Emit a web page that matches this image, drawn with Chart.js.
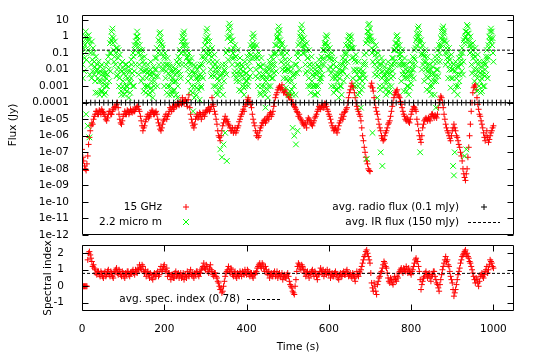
<!DOCTYPE html>
<html>
<head>
<meta charset="utf-8">
<title>Radio / IR flux and spectral index</title>
<script src="https://cdn.jsdelivr.net/npm/chart.js@4.4.1/dist/chart.umd.min.js"></script>
<style>
    html, body { margin: 0; padding: 0; background: #ffffff; }
    #page { position: relative; width: 534px; height: 354px; overflow: hidden; }
    #flux-chart { position: absolute; left: 0; top: 0; }
    #index-chart { position: absolute; left: 0; top: 240px; }
</style>
</head>
<body>
<div id="page">
    <canvas id="flux-chart" width="534" height="240"></canvas>
    <canvas id="index-chart" width="534" height="114"></canvas>
</div>
<script>
// Time axis (s)
const timeMax = 1050;
const radioStep = 4;   // 15 GHz flux and spectral index: 4 s per value in each list
const irStep = 2;      // 2.2 micron flux: 2 s per value in each list
const avgSamples = 100;

// 15 GHz flux (Jy), t = 0, 4, 8, ... 1000
const flux15GHz = [
    1.5e-7, 3e-8, 1e-8, 2e-8, 3e-7,
    2e-6, 6e-6, 1e-5, 2e-5, 3e-5,
    2e-5, 3e-5, 4e-5, 2.5e-5, 1.5e-5,
    8e-6, 2e-5, 3e-5, 2e-5, 4e-5,
    6e-5, 8e-5, 5e-5, 1e-5, 5e-6,
    1.5e-5, 3e-5, 2e-5, 3e-5, 2.5e-5,
    3e-5, 4e-5, 3e-5, 5e-5, 6e-5,
    3e-5, 8e-6, 2e-6, 4e-6, 1e-5,
    2e-5, 1.5e-5, 2.5e-5, 3e-5, 2e-5,
    3e-5, 1e-5, 4e-6, 2e-6, 5e-6,
    1e-5, 2e-5, 1.5e-5, 3e-5, 4e-5,
    6e-5, 5e-5, 8e-5, 1e-4, 7e-5,
    1.2e-4, 2e-4, 9e-5, 1.5e-4, 6e-5,
    3e-4, 2e-5, 6e-6, 3e-6, 1e-5,
    2e-5, 1.5e-5, 2e-5, 1.5e-5, 2e-5,
    2.5e-5, 3e-5, 5e-5, 4e-5, 2e-4,
    6e-5, 2e-5, 5e-6, 1e-6, 5e-7,
    2e-6, 6e-6, 1.5e-5, 1e-5, 5e-6,
    3e-6, 2e-6, 1.5e-6, 3e-6, 2e-6,
    4e-6, 1e-5, 2e-5, 4e-5, 6e-5,
    1e-4, 2e-4, 1.2e-4, 5e-5, 1e-5,
    4e-6, 1e-6, 8e-7, 2e-6, 4e-6,
    6e-6, 1e-5, 8e-6, 1.5e-5, 2e-5,
    1.5e-5, 3e-5, 1e-4, 3e-4, 6e-4,
    1e-3, 8e-4, 6e-4, 5e-4, 4e-4,
    3e-4, 2e-4, 1.5e-4, 1e-4, 6e-5,
    4e-5, 2.5e-5, 2e-5, 1e-5, 6e-6,
    4e-6, 5e-6, 8e-6, 1e-5, 6e-6,
    4e-6, 8e-6, 1.5e-5, 3e-5, 6e-5,
    4e-5, 7e-5, 5e-5, 8e-5, 4e-5,
    2e-5, 1e-5, 4e-6, 2e-6, 3e-6,
    1.5e-6, 4e-6, 8e-6, 2e-5, 1.5e-5,
    3e-5, 5e-5, 2e-4, 6e-4, 1.5e-3,
    8e-4, 2e-4, 6e-5, 3e-5, 1.5e-5,
    3e-6, 5e-7, 1e-7, 3e-8, 1e-8,
    7e-9, 1.5e-3, 5e-4, 1e-4, 3e-5,
    1e-5, 3e-6, 1e-6, 5e-7, 1e-6,
    2e-6, 5e-6, 8e-6, 3e-5, 1e-4,
    3e-4, 5e-4, 3e-4, 2e-4, 8e-5,
    3e-5, 1.5e-5, 8e-6, 1e-5, 6e-6,
    2e-5, 4e-5, 5e-5, 3e-5, 5e-6,
    1e-6, 4e-7, 3e-6, 8e-6, 1.2e-5,
    8e-6, 1e-5, 1.5e-5, 2e-5, 1.2e-5,
    1.5e-5, 2e-5, 1e-4, 2.5e-4, 1e-4,
    2e-5, 5e-6, 2e-6, 1e-6, 5e-7,
    2e-6, 5e-6, 2e-6, 8e-7, 3e-7,
    1e-7, 3e-8, 5e-9, 2e-9, 1e-8,
    2e-7, 5e-6, 1e-4, 8e-4, 1.2e-3,
    2e-4, 4e-5, 1.5e-5, 5e-6, 1.5e-6,
    5e-7, 2e-6, 4e-7, 1e-6, 2e-6,
    4e-6
];

// 15 GHz flux (Jy), in-between readings, t = 2, 6, 10, ... 998
const flux15GHzMid = [
    5e-8, 1.5e-8, 8e-9, 6e-8, 8e-7,
    4e-6, 5e-6, 1.5e-5, 3e-5, 2e-5,
    3.5e-5, 2e-5, 3e-5, 2e-5, 1e-5,
    1.2e-5, 3e-5, 2e-5, 3e-5, 5e-5,
    5e-5, 1e-4, 2e-5, 6e-6, 8e-6,
    2e-5, 2e-5, 3.5e-5, 2e-5, 4e-5,
    2.5e-5, 3e-5, 4e-5, 6e-5, 4e-5,
    1.5e-5, 4e-6, 3e-6, 7e-6, 1.5e-5,
    1.2e-5, 2e-5, 3.5e-5, 2e-5, 2.5e-5,
    2e-5, 6e-6, 2.5e-6, 3e-6, 8e-6,
    1.5e-5, 1e-5, 2e-5, 5e-5, 3e-5,
    4e-5, 7e-5, 6e-5, 8e-5, 1e-4,
    8e-5, 1.2e-4, 1.3e-4, 1e-4, 1.5e-4,
    5e-5, 1e-5, 4e-6, 5e-6, 1.5e-5,
    1.2e-5, 2.5e-5, 1e-5, 2.5e-5, 1.5e-5,
    3.5e-5, 4e-5, 3e-5, 6e-5, 8e-5,
    3e-5, 1e-5, 2e-6, 8e-7, 1e-6,
    4e-6, 1e-5, 8e-6, 7e-6, 4e-6,
    2e-6, 3e-6, 2e-6, 1.5e-6, 3e-6,
    7e-6, 1.5e-5, 3e-5, 3e-5, 8e-5,
    1.5e-4, 1e-4, 8e-5, 2e-5, 6e-6,
    2e-6, 1.5e-6, 1e-6, 3e-6, 6e-6,
    8e-6, 6e-6, 1.2e-5, 1e-5, 2.5e-5,
    2e-5, 6e-5, 2e-4, 4e-4, 8e-4,
    7e-4, 1.2e-3, 4e-4, 6e-4, 3e-4,
    2.5e-4, 3e-4, 1e-4, 8e-5, 5e-5,
    3e-5, 1.5e-5, 1.2e-5, 8e-6, 5e-6,
    6e-6, 3e-6, 1.2e-5, 8e-6, 5e-6,
    6e-6, 1.2e-5, 2e-5, 4e-5, 5e-5,
    6e-5, 5e-5, 9e-5, 6e-5, 3e-5,
    1.5e-5, 6e-6, 3e-6, 2.5e-6, 2e-6,
    2.5e-6, 6e-6, 1.2e-5, 1e-5, 2.5e-5,
    4e-5, 1e-4, 4e-4, 1e-3, 1e-3,
    4e-4, 1e-4, 4e-5, 2e-5, 8e-6,
    1e-6, 2e-7, 5e-8, 2e-8, 8e-9,
    1e-3, 8e-4, 2e-4, 5e-5, 2e-5,
    5e-6, 2e-6, 7e-7, 6e-7, 1.5e-6,
    3e-6, 6e-6, 1.5e-5, 6e-5, 2e-4,
    4e-4, 6e-4, 2.5e-4, 1.2e-4, 5e-5,
    2e-5, 1e-5, 1.2e-5, 7e-6, 1e-5,
    3e-5, 6e-5, 4e-5, 1e-5, 2e-6,
    6e-7, 1e-6, 5e-6, 1e-5, 1e-5,
    1.2e-5, 8e-6, 2e-5, 1.5e-5, 1.8e-5,
    1.2e-5, 5e-5, 1.5e-4, 2e-4, 5e-5,
    1e-5, 3e-6, 1.5e-6, 7e-7, 1e-6,
    3e-6, 3e-6, 1e-6, 5e-7, 2e-7,
    6e-8, 1e-8, 3e-9, 5e-9, 5e-8,
    1e-6, 3e-5, 4e-4, 1e-3, 6e-4,
    8e-5, 2e-5, 8e-6, 3e-6, 8e-7,
    1e-6, 8e-7, 6e-7, 1.5e-6, 3e-6
];

// 2.2 micron flux (Jy), t = 0, 2, 4, ... 1000
const flux2200nm = [
    1e-1, 3e-3, 2e-1, 5e-2, 1e0, 2e-5, 6e-1, 4e-6, 1.2e0, 8e-7,
    3e-1, 2e-2, 5e-1, 8e-3, 1e-1, 3e-2, 2e-3, 6e-2, 1e-2, 4e-4,
    3e-2, 2e-3, 8e-3, 5e-4, 2e-2, 1e-3, 4e-3, 3e-4, 6e-3, 1e-3,
    2e-2, 5e-3, 6e-2, 2e-3, 4e-1, 1e-1, 2e0, 3e0, 8e-1, 3e-2,
    5e-1, 1e-1, 4e-3, 2e-1, 5e-2, 1e-3, 8e-2, 1e-2, 3e-4, 3e-2,
    2e-3, 1e-2, 6e-4, 4e-3, 2e-2, 1e-3, 3e-3, 2e-4, 8e-3, 1.5e-3,
    4e-2, 6e-3, 1e-1, 1e-3, 3e-1, 2e-2, 1e0, 2e0, 6e-1, 5e-3,
    3e-1, 8e-2, 2e-3, 1.5e-1, 3e-2, 5e-4, 6e-2, 8e-3, 1e-2, 1e-3,
    2e-2, 3e-4, 5e-3, 1e-2, 8e-4, 4e-3, 2e-4, 1.5e-2, 2e-3, 5e-2,
    1e-2, 2e-1, 4e-3, 6e-1, 1.5e0, 1.8e0, 4e-1, 1e-2, 2e-1, 6e-2,
    1e-3, 1e-1, 2e-2, 4e-4, 5e-2, 6e-3, 2e-2, 1e-3, 8e-3, 3e-4,
    3e-3, 1.5e-2, 6e-4, 5e-3, 2e-3, 3e-2, 2e-4, 6e-2, 8e-3, 1.5e-1,
    3e-3, 5e-1, 1e0, 1.5e0, 2e0, 5e-1, 2e-2, 3e-1, 6e-2, 2e-3,
    1e-1, 3e-2, 5e-4, 5e-2, 8e-3, 3e-5, 2e-2, 1e-3, 6e-3, 3e-4,
    1e-2, 2e-3, 4e-3, 1.5e-4, 2e-2, 8e-4, 6e-2, 3e-3, 1.5e-1, 4e-2,
    6e-1, 2e0, 3e0, 1e0, 8e-2, 5e-1, 1.5e-1, 4e-3, 2e-1, 3e-2,
    1e-3, 8e-2, 1e-2, 4e-4, 3e-2, 3e-3, 1e-2, 5e-4, 1.5e-7, 5e-3,
    5e-8, 2e-2, 3e-7, 1e-2, 1.5e-6, 1e-1, 3e-8, 8e-1, 3e0, 6e0,
    4e0, 1e0, 5e-2, 6e-1, 2e-1, 5e-3, 3e-1, 6e-2, 2e-3, 1.5e-1,
    2e-2, 6e-4, 5e-2, 5e-3, 2e-2, 1e-3, 8e-3, 3e-4, 3e-2, 2e-3,
    6e-3, 6e-2, 1e-3, 1e-1, 4e-3, 3e-1, 5e-2, 8e-1, 1.5e0, 1e0,
    2e-1, 4e-3, 3e-1, 5e-2, 1e-3, 1e-1, 1.5e-2, 3e-4, 5e-2, 4e-3,
    2e-2, 5e-4, 8e-3, 5e-5, 3e-3, 1.5e-2, 2e-4, 5e-3, 3e-2, 1e-3,
    6e-2, 1e-2, 3e-3, 1e-1, 2e-2, 3e-1, 8e-3, 8e-1, 2e0, 4e0,
    2.5e0, 6e-1, 3e-2, 4e-1, 1e-1, 3e-3, 2e-1, 4e-2, 8e-4, 1e-1,
    1e-2, 3e-4, 4e-2, 3e-3, 1.5e-2, 6e-4, 3e-6, 5e-3, 1e-6, 2e-2,
    3e-7, 1e-1, 2e-6, 3e-1, 1e-2, 1e0, 3e0, 5e0, 2e0, 2e-1,
    8e-1, 3e-1, 6e-3, 4e-1, 5e-2, 1e-3, 1.5e-1, 2e-2, 4e-4, 6e-2,
    5e-3, 2e-2, 1e-3, 1e-2, 3e-4, 5e-3, 2e-2, 1e-3, 4e-2, 3e-3,
    1e-2, 6e-2, 5e-3, 1.5e-1, 2e-2, 4e-1, 8e-1, 1.2e0, 1e0, 3e-1,
    1e-2, 2e-1, 5e-2, 1e-3, 1e-1, 1e-2, 4e-4, 4e-2, 3e-3, 1.5e-2,
    6e-4, 6e-3, 2e-4, 3e-3, 2e-2, 1e-3, 8e-3, 5e-2, 2e-3, 1e-1,
    1.5e-2, 3e-1, 4e-3, 6e-1, 1e0, 1.2e0, 8e-1, 1e0, 2e-1, 3e-3,
    2e-1, 4e-2, 1e-3, 8e-2, 1e-2, 3e-4, 3e-2, 3e-3, 1e-2, 5e-5,
    5e-3, 1e-3, 2e-2, 8e-2, 3e-3, 4e-1, 4e-8, 2e0, 5e0, 6e0,
    3e0, 1e0, 2e-1, 1.5e-6, 5e-1, 1.5e-1, 5e-3, 3e-1, 5e-2, 2e-4,
    1e-1, 2e-2, 1e-3, 1e-7, 5e-2, 1.5e-8, 3e-2, 4e-3, 1.5e-2, 6e-4,
    8e-3, 2e-3, 3e-2, 5e-4, 6e-3, 1.5e-2, 1e-3, 5e-2, 4e-3, 1.5e-1,
    2e-2, 4e-1, 1e0, 1.2e0, 6e-1, 2e-2, 3e-1, 8e-2, 2e-3, 1.5e-1,
    2e-2, 5e-4, 5e-2, 5e-3, 2e-2, 1e-3, 8e-3, 3e-4, 4e-3, 3e-2,
    1.5e-3, 1e-2, 6e-2, 3e-3, 1.5e-1, 2e-2, 6e-1, 1.5e0, 3e0, 4e0,
    1.5e0, 1e-7, 6e-1, 1e-2, 3e-1, 8e-2, 2e-3, 1.5e-1, 3e-2, 6e-4,
    6e-2, 8e-3, 2e-2, 1e-3, 1e-2, 3e-4, 5e-3, 3e-2, 2e-3, 6e-2,
    5e-5, 1e-2, 1.5e-1, 4e-3, 3e-1, 3e-2, 8e-1, 2e0, 3e0, 4e0,
    2e0, 5e-1, 2e-2, 4e-1, 1e-1, 3e-3, 2e-1, 4e-2, 8e-4, 8e-2,
    1e-2, 1.5e-8, 4e-9, 1e-7, 3e-2, 3e-3, 1.5e-2, 1e-3, 5e-2, 5e-3,
    1e-1, 2e-2, 2e-1, 5e-3, 6e-1, 6e-8, 2e0, 1.5e-7, 5e0, 4e0,
    1.5e0, 3e-1, 1e0, 2e-1, 6e-3, 4e-1, 8e-2, 2e-3, 2e-1, 3e-2,
    5e-4, 8e-2, 8e-3, 3e-2, 2e-3, 1.5e-2, 5e-4, 5e-3, 3e-2, 1e-3,
    1e-2, 6e-2, 1.5e-1, 3e-3, 3e-1, 1e0, 2e0, 3e0, 2e0, 8e-1,
    3e-2
];

// 2.2 micron flux (Jy), in-between readings, t = 1, 3, 5, ... 999
const flux2200nmMid = [
    2e-2, 5e-1, 8e-3, 3e-1, 2e0, 4e-2, 1e0, 1.5e-1, 6e-1, 5e-3,
    1e-1, 3e-3, 4e-2, 2e-1, 5e-3, 1.5e-2, 4e-4, 8e-3, 2e-2, 3e-3,
    6e-3, 3e-4, 1.5e-2, 2e-3, 5e-4, 6e-3, 1e-2, 2e-3, 4e-4, 3e-3,
    1e-3, 3e-2, 1e-2, 1e-1, 8e-3, 6e-1, 1e0, 4e-1, 1.5e-1, 6e-2,
    2e-2, 2e-1, 1e-2, 5e-3, 1.5e-1, 3e-3, 2e-2, 5e-4, 8e-3, 1e-3,
    6e-3, 3e-4, 2e-2, 1e-3, 5e-4, 8e-3, 1.5e-2, 2e-3, 4e-4, 3e-3,
    2e-2, 1e-3, 6e-2, 8e-3, 1.5e-1, 5e-1, 3e-1, 1e0, 1e-1, 2e-2,
    1.5e-1, 1e-2, 5e-2, 3e-3, 8e-3, 2e-2, 1e-3, 4e-4, 3e-3, 6e-3,
    1e-3, 8e-3, 4e-4, 3e-2, 2e-3, 5e-4, 6e-3, 1e-3, 1e-2, 4e-3,
    5e-2, 1e-3, 1e-1, 2e-2, 5e-1, 8e-1, 1e-1, 3e-1, 2e-2, 1e-2,
    5e-2, 3e-3, 8e-3, 2e-2, 1e-3, 3e-4, 1.5e-2, 4e-3, 5e-4, 2e-3,
    8e-3, 5e-4, 2e-3, 1e-2, 3e-4, 6e-3, 1e-3, 2e-2, 4e-2, 5e-3,
    1e-1, 2e-2, 3e-1, 8e-1, 3e-1, 1e-1, 1.5e-1, 5e-2, 1e-2, 3e-2,
    5e-3, 2e-2, 3e-3, 1e-3, 4e-4, 6e-3, 2e-4, 1.5e-2, 3e-3, 8e-4,
    3e-3, 6e-4, 1.5e-2, 5e-3, 1e-3, 4e-3, 2e-2, 8e-3, 6e-2, 3e-1,
    1e-1, 8e-1, 5e-1, 2e-1, 3e-2, 1e-1, 1e-2, 6e-2, 5e-3, 1.5e-2,
    4e-3, 2e-2, 1e-3, 6e-3, 3e-4, 1.5e-2, 2e-3, 8e-4, 4e-3, 1e-3,
    6e-3, 3e-4, 2e-3, 8e-3, 2e-2, 5e-3, 1.5e-1, 4e-2, 1e0, 2e0,
    5e-1, 1.5e-1, 2e-2, 1e-1, 5e-2, 8e-3, 6e-2, 3e-3, 2e-2, 5e-3,
    8e-3, 2e-3, 1e-2, 5e-4, 4e-3, 1.5e-2, 8e-4, 3e-3, 1e-3, 6e-3,
    2e-3, 1.5e-2, 3e-3, 3e-2, 1e-2, 8e-2, 2e-1, 4e-1, 3e-1, 5e-2,
    8e-2, 1e-2, 5e-2, 3e-3, 2e-2, 6e-3, 4e-4, 1.5e-2, 1e-3, 3e-3,
    5e-3, 1e-3, 3e-4, 2e-3, 8e-3, 6e-4, 1e-3, 1e-2, 4e-3, 2e-2,
    3e-3, 2e-2, 4e-2, 6e-3, 8e-2, 1e-1, 3e-1, 1e0, 6e-1, 1.5e0,
    2e-1, 1e-1, 3e-1, 1e-2, 6e-2, 2e-2, 8e-3, 1e-2, 3e-3, 2e-2,
    2e-3, 1e-2, 5e-4, 8e-3, 2e-3, 3e-4, 4e-3, 1e-3, 6e-3, 3e-4,
    2e-2, 6e-3, 5e-2, 1e-1, 4e-1, 1.5e0, 8e-1, 6e-1, 1e-1, 3e-1,
    1e-1, 2e-2, 1.5e-1, 8e-3, 5e-2, 3e-3, 2e-2, 1e-3, 1e-2, 2e-3,
    1e-3, 4e-3, 3e-4, 6e-3, 1e-3, 8e-3, 4e-4, 1.5e-2, 6e-3, 2e-3,
    3e-3, 2e-2, 4e-2, 5e-2, 1.5e-1, 3e-1, 4e-1, 1.5e-1, 6e-2, 8e-2,
    5e-2, 1.5e-2, 6e-3, 4e-2, 3e-3, 2e-2, 1e-3, 5e-3, 6e-4, 4e-3,
    2e-3, 8e-4, 1e-2, 1e-3, 6e-3, 3e-4, 2e-2, 8e-3, 3e-2, 4e-2,
    8e-2, 1e-1, 3e-2, 2e-1, 3e-1, 5e-1, 2e-1, 4e-1, 5e-2, 6e-2,
    1e-2, 8e-3, 3e-2, 2e-3, 5e-3, 1e-3, 8e-3, 4e-4, 3e-3, 6e-4,
    2e-3, 8e-3, 5e-3, 3e-2, 2e-2, 1e-1, 6e-1, 1e0, 2e0, 1e0,
    6e-1, 5e-1, 1e-1, 3e-2, 1.5e-1, 2e-2, 8e-2, 1e-2, 4e-3, 3e-2,
    5e-3, 1e-2, 6e-4, 2e-2, 3e-3, 8e-3, 1e-3, 5e-3, 2e-3, 3e-4,
    3e-3, 6e-3, 1e-3, 1e-2, 4e-4, 3e-3, 2e-2, 8e-3, 5e-2, 3e-2,
    1.5e-1, 2e-1, 4e-1, 3e-1, 1.5e-1, 8e-2, 5e-2, 2e-2, 3e-2, 5e-3,
    8e-3, 2e-2, 3e-3, 1e-2, 5e-4, 3e-3, 1e-3, 1e-2, 8e-4, 6e-3,
    4e-3, 2e-2, 1e-2, 5e-2, 4e-2, 2e-1, 3e-1, 8e-1, 1e0, 6e-1,
    4e-1, 2e-1, 8e-2, 1e-1, 2e-2, 3e-2, 6e-2, 1e-2, 4e-3, 2e-2,
    3e-3, 1e-2, 5e-4, 5e-3, 2e-3, 1e-3, 1.5e-2, 6e-3, 3e-4, 4e-3,
    2e-3, 3e-2, 1e-2, 6e-2, 1e-1, 2e-1, 3e-1, 6e-1, 1e0, 1.5e0,
    6e-1, 1e-1, 2e-1, 5e-2, 3e-2, 6e-2, 1e-2, 2e-2, 3e-3, 1e-2,
    3e-3, 2e-2, 5e-4, 8e-3, 1e-3, 5e-3, 3e-4, 1.5e-2, 2e-3, 3e-2,
    6e-2, 8e-3, 1e-1, 3e-2, 4e-1, 8e-1, 1e0, 2e0, 1.5e0, 6e-1,
    5e-1, 1e-1, 3e-1, 2e-2, 1.5e-1, 5e-2, 1e-2, 6e-2, 5e-3, 1e-2,
    3e-3, 2e-2, 1e-3, 6e-3, 4e-4, 3e-3, 8e-3, 1e-3, 2e-2, 4e-3,
    2e-2, 5e-3, 4e-2, 6e-2, 2e-1, 5e-1, 8e-1, 6e-1, 3e-1, 1e-1
];

// Spectral index, t = 0, 4, 8, ... 1000
const spectralIndex = [
    0, 0, 0, 0, 2.0,
    1.9, 1.5, 1.3, 1.0, 0.7,
    0.9, 0.6, 0.8, 0.5, 0.9,
    0.7, 1.0, 0.6, 0.8, 0.5,
    0.9, 1.1, 0.7, 0.9, 0.6,
    0.8, 0.5, 0.7, 0.9, 0.6,
    0.8, 1.0, 0.7, 0.9, 1.1,
    1.3, 1.0, 1.2, 0.8, 0.6,
    0.9, 0.5, 0.7, 0.4, 0.8,
    0.6, 0.9, 0.7, 1.2, 1.0,
    1.3, 0.9, 0.6, 0.8, 0.4,
    0.7, 0.5, 0.9, 0.7, 0.5,
    0.8, 0.6, 0.4, 0.7, 0.9,
    0.6, 1.0, 0.8, 0.5, 0.7,
    0.9, 0.6, 0.8, 1.1, 1.4,
    1.0, 1.2, 0.8, 1.3, 0.9,
    0.6, 0.8, 0.5, 0.2, -0.2,
    -0.4, 0.0, 0.6, 0.9, 1.2,
    0.8, 1.0, 0.6, 0.9, 0.5,
    0.7, 0.9, 0.6, 0.8, 1.0,
    0.7, 0.9, 0.6, 0.8, 0.5,
    0.7, 0.9, 1.2, 1.4, 1.1,
    1.3, 0.9, 1.0, 0.7, 0.5,
    0.8, 0.6, 0.9, 0.7, 0.5,
    0.8, 0.6, 0.4, 0.7, 0.5,
    0.8, 0.3, 0.0, -0.3, -0.5,
    0.4, 1.2, 1.3, 1.0, 1.2,
    0.8, 0.6, 0.9, 0.5, 0.7,
    1.0, 0.6, 0.8, 0.4, 0.7,
    1.1, 0.8, 0.6, 0.9, 1.0,
    0.7, 0.5, 0.8, 0.6, 0.9,
    0.7, 0.4, 0.8, 0.6, 0.9,
    0.7, 1.0, 0.6, 0.8, 0.5,
    0.7, 0.3, 0.9, 0.6, 0.8,
    1.2, 1.6, 1.9, 2.2, 1.8,
    1.4, 0.2, -0.3, 0.0, -0.5,
    0.3, 0.6, 0.9, 1.3, 1.4,
    1.1, 0.5, 0.2, 0.4, 0.1,
    0.6, 0.3, 0.5, 0.9, 1.1,
    0.8, 1.0, 1.2, 0.8, 0.9,
    0.7, 1.0, 1.4, 1.7, 1.5,
    0.9, -0.2, 0.3, 0.6, 0.9,
    0.5, 0.8, 0.3, 0.7, 0.9,
    0.4, 0.1, -0.3, 0.4, 1.0,
    1.4, 1.8, 1.6, 1.2, 0.6,
    0.2, -0.6, -0.2, 0.4, 0.9,
    1.4, 1.8, 2.0, 2.2, 2.0,
    1.7, 1.4, 1.0, 0.6, 0.2,
    0.4, 0.0, 0.6, 0.8, 0.5,
    0.9, 1.2, 1.0, 1.6, 1.4,
    1.1
];

// Spectral index, in-between readings, t = 2, 6, 10, ... 998
const spectralIndexMid = [
    0, 0, 0, 1.6, 2.1,
    1.7, 1.2, 1.1, 0.8, 0.9,
    0.7, 0.9, 0.6, 0.8, 0.6,
    0.9, 0.7, 0.9, 0.6, 0.8,
    1.0, 0.8, 1.0, 0.7, 0.9,
    0.6, 0.8, 0.9, 0.7, 0.8,
    0.9, 0.8, 1.0, 0.8, 1.0,
    1.1, 1.3, 0.9, 1.0, 0.8,
    0.7, 0.8, 0.5, 0.7, 0.6,
    0.8, 0.6, 1.0, 0.9, 1.2,
    1.0, 1.1, 0.8, 0.6, 0.7,
    0.5, 0.8, 0.6, 0.8, 0.7,
    0.5, 0.8, 0.6, 0.5, 0.7,
    0.8, 0.7, 0.6, 0.8, 0.9,
    0.7, 0.8, 1.0, 1.2, 1.1,
    1.3, 0.9, 1.1, 1.0, 0.7,
    0.8, 0.6, 0.3, 0.0, -0.1,
    -0.3, 0.3, 0.8, 1.0, 0.9,
    1.1, 0.7, 0.8, 0.6, 0.8,
    0.6, 0.8, 0.9, 0.7, 0.8,
    1.0, 0.7, 0.8, 0.6, 0.8,
    0.8, 1.1, 1.3, 1.2, 1.4,
    1.1, 1.2, 0.8, 0.9, 0.7,
    0.6, 0.8, 0.6, 0.9, 0.7,
    0.6, 0.8, 0.6, 0.5, 0.7,
    0.6, 0.1, -0.1, -0.4, 0.0,
    0.9, 1.4, 1.1, 1.3, 1.0,
    1.0, 0.8, 0.7, 0.8, 0.9,
    0.8, 0.9, 0.6, 0.7, 0.9,
    0.9, 1.0, 0.8, 0.7, 0.8,
    0.9, 0.7, 0.6, 0.8, 0.7,
    0.5, 0.7, 0.6, 0.8, 0.7,
    0.9, 0.8, 0.7, 0.6, 0.8,
    0.5, 0.6, 0.7, 0.9, 1.0,
    1.4, 1.8, 2.1, 2.0, 1.6,
    0.8, -0.1, 0.2, -0.3, 0.1,
    0.5, 0.8, 1.1, 1.5, 1.2,
    0.8, 0.3, 0.5, 0.2, 0.4,
    0.4, 0.6, 0.8, 1.0, 0.9,
    1.1, 0.9, 1.0, 1.1, 0.8,
    0.9, 1.2, 1.6, 1.5, 1.2,
    0.4, 0.1, 0.5, 0.8, 0.7,
    0.7, 0.5, 0.6, 0.9, 0.6,
    0.2, -0.1, 0.1, 0.7, 1.2,
    1.6, 1.5, 1.3, 0.9, 0.4,
    -0.2, -0.4, 0.1, 0.7, 1.1,
    1.6, 1.9, 2.1, 1.9, 1.8,
    1.5, 1.2, 0.8, 0.4, 0.5,
    0.2, 0.3, 0.7, 0.6, 0.7,
    1.0, 0.8, 1.3, 1.5, 1.2
];

const avgRadioFlux = 1e-4;   // 0.1 mJy
const avgIRFlux = 0.15;      // 150 mJy
const avgSpecIndex = 0.78;

const fluxTicks = [10, 1, 0.1, 0.01, 0.001, 1e-4, 1e-5, 1e-6, 1e-7, 1e-8, 1e-9, 1e-10, 1e-11, 1e-12];
const fluxTickLabels = ['10', '1', '0.1', '0.01', '0.001', '0.0001', '1e-05', '1e-06', '1e-07', '1e-08', '1e-09', '1e-10', '1e-11', '1e-12'];
const indexTicks = [2, 1, 0, -1];
const indexTickLabels = ['2', '1', '0', '-1'];
const timeTicks = [0, 200, 400, 600, 800, 1000];
const timeTickLabels = ['0', '200', '400', '600', '800', '1000'];

const RED = '#ff0000';
const GREEN = '#00ff00';
const FONT = { family: "'DejaVu Sans', sans-serif", size: 10.5 };

Chart.defaults.font.family = FONT.family;
Chart.defaults.font.size = FONT.size;
Chart.defaults.color = '#000000';

function toPoints(values, step, offset) {
    return values.map((v, i) => ({ x: offset + i * step, y: v }));
}

function hLine(y) {
    return [{ x: 0, y: y }, { x: timeMax, y: y }];
}

const avgRadioPoints = [];
for (let k = 0; k < avgSamples; k++) {
    avgRadioPoints.push({ x: k * timeMax / (avgSamples - 1), y: avgRadioFlux });
}

// gnuplot-like border with inward ticks
const framePlugin = {
    id: 'gpFrame',
    afterDatasetsDraw(chart, args, opts) {
        const { ctx, chartArea: a, scales } = chart;
        const l = Math.round(a.left) + 0.5;
        const r = Math.round(a.right) - 0.5;
        const t = Math.round(a.top) + 0.5;
        const b = Math.round(a.bottom) - 0.5;
        const len = 6;
        ctx.save();
        ctx.strokeStyle = '#000000';
        ctx.lineWidth = 1;
        ctx.beginPath();
        ctx.rect(l, t, r - l, b - t);
        scales.y.ticks.forEach(tk => {
            const y = Math.round(scales.y.getPixelForValue(tk.value)) + 0.5;
            ctx.moveTo(l, y); ctx.lineTo(l + len, y);
            ctx.moveTo(r, y); ctx.lineTo(r - len, y);
        });
        if (opts.xTicks) {
            scales.x.ticks.forEach(tk => {
                const x = Math.round(scales.x.getPixelForValue(tk.value)) + 0.5;
                ctx.moveTo(x, b); ctx.lineTo(x, b - len);
                ctx.moveTo(x, t); ctx.lineTo(x, t + len);
            });
        }
        ctx.stroke();
        ctx.restore();
    }
};

// gnuplot-like key: right-aligned text followed by the sample
const keyPlugin = {
    id: 'gpKey',
    afterDraw(chart, args, opts) {
        const ctx = chart.ctx;
        ctx.save();
        ctx.font = FONT.size + 'px ' + FONT.family;
        ctx.fillStyle = '#000000';
        ctx.textAlign = 'right';
        ctx.textBaseline = 'middle';
        ctx.lineWidth = 1;
        (opts.items || []).forEach(it => {
            ctx.fillText(it.text, it.tx, it.y);
            ctx.strokeStyle = it.color;
            ctx.beginPath();
            if (it.kind === 'cross') {
                ctx.moveTo(it.sx - 3, it.y); ctx.lineTo(it.sx + 3, it.y);
                ctx.moveTo(it.sx, it.y - 3); ctx.lineTo(it.sx, it.y + 3);
            } else if (it.kind === 'crossRot') {
                ctx.moveTo(it.sx - 3, it.y - 3); ctx.lineTo(it.sx + 3, it.y + 3);
                ctx.moveTo(it.sx - 3, it.y + 3); ctx.lineTo(it.sx + 3, it.y - 3);
            } else {
                ctx.setLineDash([3, 2]);
                ctx.moveTo(it.sx, it.y + 0.5); ctx.lineTo(it.ex, it.y + 0.5);
            }
            ctx.stroke();
            ctx.setLineDash([]);
        });
        ctx.restore();
    }
};

const fluxChart = new Chart(document.getElementById('flux-chart').getContext('2d'), {
    type: 'scatter',
    data: {
        datasets: [
            {
                label: '15 GHz',
                data: toPoints(flux15GHz, radioStep, 0).concat(toPoints(flux15GHzMid, radioStep, 2)),
                pointStyle: 'cross',
                pointRadius: 3,
                borderColor: RED,
                backgroundColor: RED,
                pointBorderWidth: 1,
                order: 4
            },
            {
                label: '2.2 micro m',
                data: toPoints(flux2200nm, irStep, 0).concat(toPoints(flux2200nmMid, irStep, 1)),
                pointStyle: 'crossRot',
                pointRadius: 4,
                borderColor: GREEN,
                backgroundColor: GREEN,
                pointBorderWidth: 1,
                order: 3
            },
            {
                label: 'avg. radio flux (0.1 mJy)',
                data: avgRadioPoints,
                pointStyle: 'cross',
                pointRadius: 3,
                borderColor: '#000000',
                backgroundColor: '#000000',
                pointBorderWidth: 1,
                order: 2
            },
            {
                type: 'line',
                label: 'avg. IR flux (150 mJy)',
                data: hLine(avgIRFlux),
                borderColor: '#000000',
                borderWidth: 1,
                borderDash: [3, 2],
                pointRadius: 0,
                fill: false,
                order: 1
            }
        ]
    },
    options: {
        responsive: false,
        animation: false,
        events: [],
        layout: { padding: { left: 0, right: 20, top: 15, bottom: 5 } },
        plugins: {
            legend: { display: false },
            tooltip: { enabled: false },
            gpFrame: { xTicks: false },
            gpKey: {
                items: [
                    { text: '15 GHz', tx: 162, y: 207, kind: 'cross', color: RED, sx: 186 },
                    { text: '2.2 micro m', tx: 162, y: 222, kind: 'crossRot', color: GREEN, sx: 186 },
                    { text: 'avg. radio flux (0.1 mJy)', tx: 459, y: 207, kind: 'cross', color: '#000000', sx: 484 },
                    { text: 'avg. IR flux (150 mJy)', tx: 459, y: 222, kind: 'dash', color: '#000000', sx: 468, ex: 500 }
                ]
            }
        },
        scales: {
            x: { type: 'linear', min: 0, max: timeMax, display: false },
            y: {
                type: 'logarithmic',
                min: 1e-12,
                max: 20,
                afterBuildTicks: s => { s.ticks = fluxTicks.map(v => ({ value: v })); },
                afterFit: s => { s.width = 82; s.paddingTop = 0; s.paddingBottom = 0; },
                grid: { display: false },
                border: { display: false },
                ticks: {
                    padding: 5,
                    color: '#000000',
                    callback: (v, i) => fluxTickLabels[i]
                },
                title: {
                    display: true,
                    text: 'Flux (Jy)',
                    color: '#000000',
                    padding: { top: 7, bottom: 0 }
                }
            }
        }
    },
    plugins: [framePlugin, keyPlugin]
});

const indexChart = new Chart(document.getElementById('index-chart').getContext('2d'), {
    type: 'scatter',
    data: {
        datasets: [
            {
                label: 'Spectral index',
                data: toPoints(spectralIndex, radioStep, 0).concat(toPoints(spectralIndexMid, radioStep, 2)),
                pointStyle: 'cross',
                pointRadius: 3,
                borderColor: RED,
                backgroundColor: RED,
                pointBorderWidth: 1,
                order: 2
            },
            {
                type: 'line',
                label: 'avg. spec. index (0.78)',
                data: hLine(avgSpecIndex),
                borderColor: '#000000',
                borderWidth: 1,
                borderDash: [3, 2],
                pointRadius: 0,
                fill: false,
                order: 1
            }
        ]
    },
    options: {
        responsive: false,
        animation: false,
        events: [],
        layout: { padding: { left: 0, right: 20, top: 4, bottom: 0 } },
        plugins: {
            legend: { display: false },
            tooltip: { enabled: false },
            gpFrame: { xTicks: true },
            gpKey: {
                items: [
                    { text: 'avg. spec. index (0.78)', tx: 240, y: 59, kind: 'dash', color: '#000000', sx: 247, ex: 280 }
                ]
            }
        },
        scales: {
            x: {
                type: 'linear',
                min: 0,
                max: timeMax,
                afterBuildTicks: s => { s.ticks = timeTicks.map(v => ({ value: v })); },
                afterFit: s => { s.height = 43; s.paddingLeft = 0; s.paddingRight = 0; },
                grid: { display: false },
                border: { display: false },
                ticks: {
                    padding: 4,
                    maxRotation: 0,
                    color: '#000000',
                    callback: (v, i) => timeTickLabels[i]
                },
                title: {
                    display: true,
                    text: 'Time (s)',
                    color: '#000000',
                    padding: { top: 0, bottom: 0 }
                }
            },
            y: {
                type: 'linear',
                min: -1.5,
                max: 2.5,
                afterBuildTicks: s => { s.ticks = indexTicks.map(v => ({ value: v })); },
                afterFit: s => { s.width = 82; s.paddingTop = 0; s.paddingBottom = 0; },
                grid: { display: false },
                border: { display: false },
                ticks: {
                    padding: 10,
                    color: '#000000',
                    callback: (v, i) => indexTickLabels[i]
                },
                title: {
                    display: true,
                    text: 'Spectral index',
                    color: '#000000',
                    padding: { top: 42, bottom: 0 }
                }
            }
        }
    },
    plugins: [framePlugin, keyPlugin]
});
</script>
</body>
</html>
